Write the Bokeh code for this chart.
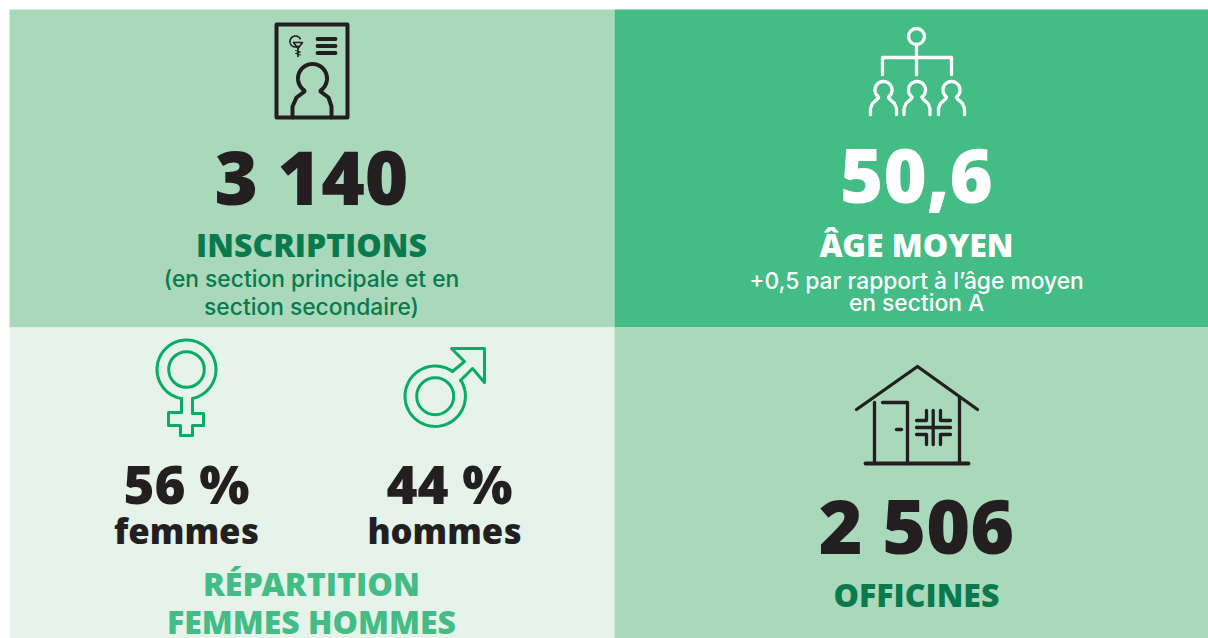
import numpy as np
from bokeh.embed import file_html
from bokeh.resources import INLINE
from bokeh.plotting import figure
from bokeh.core.properties import value

inscriptions = "3 140"
age_moyen = "50,6"
femmes = "56 %"
hommes = "44 %"
officines = "2 506"

HEAVY = "Open Sans ExtraBold"
BODY = "Inter Medium"
DARK = "#231F20"
DKGREEN = "#087A4D"
MID = "#44BC85"
LIGHT = "#A9D8BB"
PALE = "#E6F3EB"
ICON = "#0AAB65"

p = figure(width=1208, height=638, x_range=(0, 1208), y_range=(638, 0),
           output_backend="svg", toolbar_location=None, min_border=0)
p.axis.visible = False
p.grid.visible = False
p.outline_line_color = None
p.background_fill_color = "white"
p.border_fill_color = "white"

for (l, r, t, b, c) in [(9, 614, 9, 327, LIGHT), (614, 1208, 9, 327, MID),
                        (9, 614, 327, 638, PALE), (614, 1208, 327, 638, LIGHT)]:
    p.quad(left=[l], right=[r], top=[t], bottom=[b], fill_color=c, line_color=None)


def txt(x, y, s, size, color, font=BODY, style="normal"):
    p.text(x=[x], y=[y - 0.36 * size], text=[s], text_font=value(font), text_font_size=f"{size}px",
           text_font_style=style, text_color=color, text_align="center",
           text_baseline="alphabetic")


def line(xs, ys, color, w):
    p.line(xs, ys, line_color=color, line_width=w, line_cap="round", line_join="round")


def arc(cx, cy, r, a0, a1, n=60):
    t = np.radians(np.linspace(a0, a1, n))
    return list(cx + r * np.cos(t)), list(cy + r * np.sin(t))


# --- text
txt(311, 202, inscriptions, 74.5, DARK, HEAVY)
txt(311, 256, "INSCRIPTIONS", 32, DKGREEN, HEAVY)
txt(311, 286, "(en section principale et en", 22.8, DKGREEN)
txt(311, 314, "section secondaire)", 22.8, DKGREEN)

txt(916, 202, age_moyen, 74, "white", HEAVY)
txt(916, 256, "ÂGE MOYEN", 32, "white", HEAVY)
txt(916, 288, "+0,5 par rapport à l’âge moyen", 22.8, "white")
txt(916, 310, "en section A", 22.8, "white")

txt(186, 502, femmes, 53, DARK, HEAVY)
txt(186, 542.5, "femmes", 34.7, DARK, HEAVY)
txt(449, 502, hommes, 53, DARK, HEAVY)
txt(444, 542.5, "hommes", 34.6, DARK, HEAVY)
txt(311, 594.5, "RÉPARTITION", 32.3, MID, HEAVY)
txt(311, 632.5, "FEMMES HOMMES", 32, MID, HEAVY)

txt(916, 551.5, officines, 75, DARK, HEAVY)
txt(916, 606, "OFFICINES", 32, DKGREEN, HEAVY)

# --- document icon
line([276, 347, 347, 276, 276], [24, 24, 117, 117, 24], DARK, 4)
for y in (38.5, 45.5, 52.5):
    line([317, 335], [y, y], DARK, 3.8)
hx, hy = arc(312, 78, 14.5, 125, 415)
line([292, 292, 296, 304] + hx + [320, 328, 331, 331],
     [117, 106, 97, 91] + hy + [91, 97, 106, 117], DARK, 4)
# caduceus
cx, cy = arc(295, 41, 5.5, 60, 330)
line(cx, cy, DARK, 1.6)
line([293, 302, 297.5, 293], [42, 42, 48, 42], DARK, 1.6)
line([297.5, 297.5], [46, 56], DARK, 1.6)
line([295, 300, 295, 300], [50, 51.5, 53, 54.5], DARK, 1)

# --- hierarchy icon
p.circle(x=[916], y=[36], radius=8, fill_color=None, line_color="white", line_width=3.3)
line([916, 916], [44, 74], "white", 3.3)
line([882, 882, 951, 951], [74, 57, 57, 74], "white", 3.3)
for c in (883, 916.5, 951):
    hx, hy = arc(c, 89.5, 8.5, 125, 415)
    line([c - 13, c - 13, c - 11, c - 6] + hx + [c + 6, c + 11, c + 13, c + 13],
         [114, 108, 103, 98.5] + hy + [98.5, 103, 108, 114], "white", 3.3)

# --- female
p.circle(x=[186], y=[369], radius=17.8, fill_color=None, line_color=ICON, line_width=3)
hx, hy = arc(186, 369, 29.5, 100, 438)
line(hx, hy, ICON, 3)
line([181, 181, 168, 168, 180, 180, 192, 192, 203, 203, 192, 192],
     [398, 412, 412, 425, 425, 435, 435, 425, 425, 413, 413, 398], ICON, 3)

# --- male
p.circle(x=[434.7], y=[395.7], radius=18.5, fill_color=None, line_color=ICON, line_width=3)
hx, hy = arc(434.7, 395.7, 30.2, -32, 305)
line(hx, hy, ICON, 3)
line([452, 464, 451, 484, 484, 472, 460], [371, 361, 348, 348, 382, 368, 380], ICON, 3)

# --- house
line([856, 917, 977], [409, 366, 409], DARK, 3.3)
line([874, 874], [402, 463], DARK, 3.3)
line([865, 968], [463, 463], DARK, 3.8)
line([882, 907, 907], [402, 402, 463], DARK, 3.3)
line([959, 959], [397, 463], DARK, 3.3)
line([896, 901], [429, 429], DARK, 3.3)
line([932.7, 932.7], [410, 444], DARK, 3.3)
line([916, 950], [427, 427], DARK, 3.3)
line([926, 926, 916], [410, 420, 420], DARK, 3.3)
line([940, 940, 950], [410, 420, 420], DARK, 3.3)
line([926, 926, 916], [444, 434, 434], DARK, 3.3)
line([940, 940, 950], [444, 434, 434], DARK, 3.3)

open("out.html", "w").write(file_html(p, INLINE))
